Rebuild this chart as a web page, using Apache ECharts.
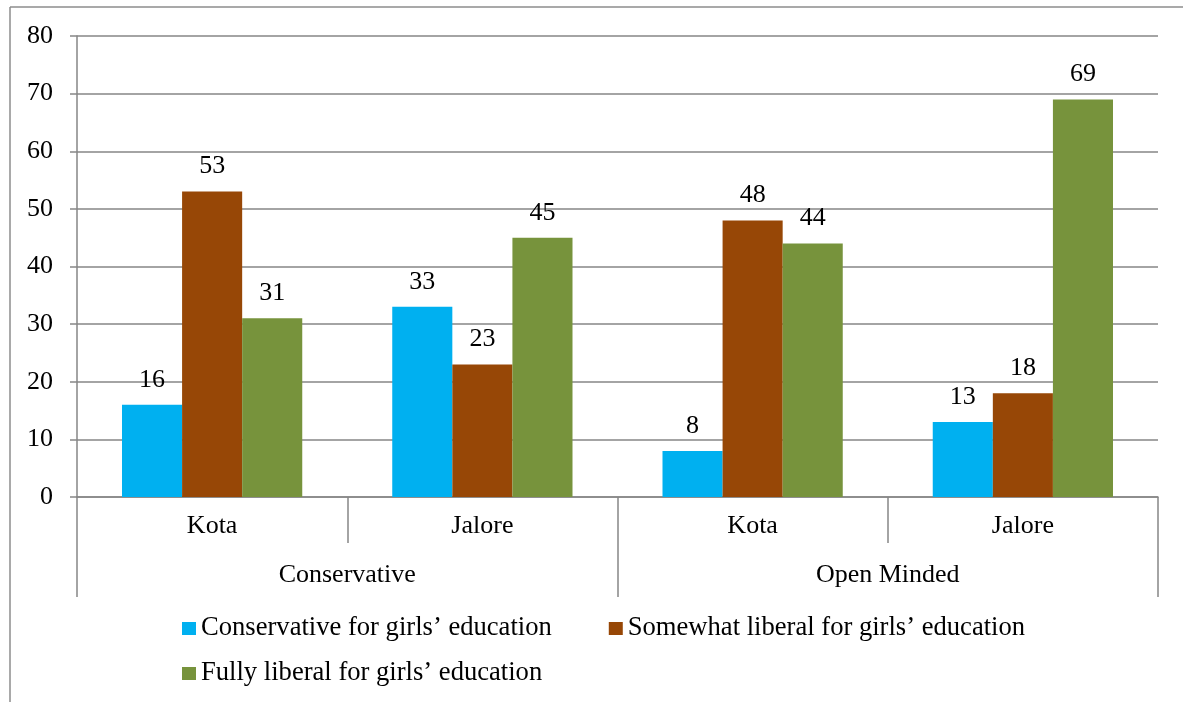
<!DOCTYPE html>
<html>
<head>
<meta charset="utf-8">
<script src="https://cdn.jsdelivr.net/npm/echarts@6/dist/echarts.min.js"></script>
<style>
html,body{margin:0;padding:0;background:#fff;}
#c{width:1183px;height:702px;}
</style>
</head>
<body>
<div id="c"></div>
<script>
const categories = ['Kota', 'Jalore', 'Kota', 'Jalore'];
const groups = ['Conservative', 'Open Minded'];
const seriesNames = ['Conservative for girls\u2019 education', 'Somewhat liberal for girls\u2019 education', 'Fully liberal for girls\u2019 education'];
const conservative = [16, 33, 8, 13];
const somewhatLiberal = [53, 23, 48, 18];
const fullyLiberal = [31, 45, 44, 69];
const yTicks = [0, 10, 20, 30, 40, 50, 60, 70, 80];

const colors = ['#00B0F0', '#974706', '#77933C'];
const font = '"Liberation Serif", "Times New Roman", serif';
const gray = '#868686';
const fs = 26;
const lfs = 26.6;

const chart = echarts.init(document.getElementById('c'), null, {renderer: 'canvas'});
const values = [conservative, somewhatLiberal, fullyLiberal];

chart.setOption({
  animation: false,
  textStyle: {fontFamily: font},
  grid: {left: 77, right: 25, top: 36, bottom: 205, containLabel: false},
  legend: [
    {
      data: [seriesNames[0], seriesNames[1]],
      left: 182, top: 615, padding: 0,
      itemWidth: 14, itemHeight: 13, itemGap: 57,
      icon: 'rect',
      textStyle: {fontFamily: font, fontSize: lfs, color: '#000'}
    },
    {
      data: [seriesNames[2]],
      left: 182, top: 660, padding: 0,
      itemWidth: 14, itemHeight: 13,
      icon: 'rect',
      textStyle: {fontFamily: font, fontSize: lfs, color: '#000'}
    }
  ],
  xAxis: [
    {
      type: 'category',
      data: categories,
      position: 'bottom',
      axisLine: {lineStyle: {color: gray, width: 1.5}},
      axisTick: {show: true, alignWithLabel: false, length: 46, lineStyle: {color: gray, width: 1.5}},
      axisLabel: {fontFamily: font, fontSize: fs, color: '#000', margin: 16},
      splitLine: {show: false}
    },
    {
      type: 'category',
      data: groups,
      position: 'bottom',
      axisLine: {show: false},
      axisTick: {show: true, alignWithLabel: false, length: 100, lineStyle: {color: gray, width: 1.5}},
      axisLabel: {fontFamily: font, fontSize: fs, color: '#000', margin: 65},
      splitLine: {show: false}
    }
  ],
  yAxis: {
    type: 'value',
    min: yTicks[0], max: yTicks[yTicks.length - 1], interval: 10,
    axisLine: {show: true, lineStyle: {color: gray, width: 1.5}},
    axisTick: {show: true, length: 7, lineStyle: {color: gray, width: 1.5}},
    axisLabel: {fontFamily: font, fontSize: fs, color: '#000', margin: 24},
    splitLine: {show: true, lineStyle: {color: gray, width: 1.5}}
  },
  series: values.map((v, i) => ({
    name: seriesNames[i],
    type: 'bar',
    xAxisIndex: 0,
    data: v,
    barGap: '0%',
    barCategoryGap: '33.3%',
    itemStyle: {color: colors[i]},
    label: {show: true, position: 'top', distance: 12, fontFamily: font, fontSize: fs, color: '#000'}
  })),
  graphic: [
    {type: 'line', shape: {x1: 10, y1: 7, x2: 1183, y2: 7}, style: {stroke: '#8c8c8c', lineWidth: 1.5}, silent: true},
    {type: 'line', shape: {x1: 10, y1: 7, x2: 10, y2: 702}, style: {stroke: '#8c8c8c', lineWidth: 1.5}, silent: true}
  ]
});
</script>
</body>
</html>
